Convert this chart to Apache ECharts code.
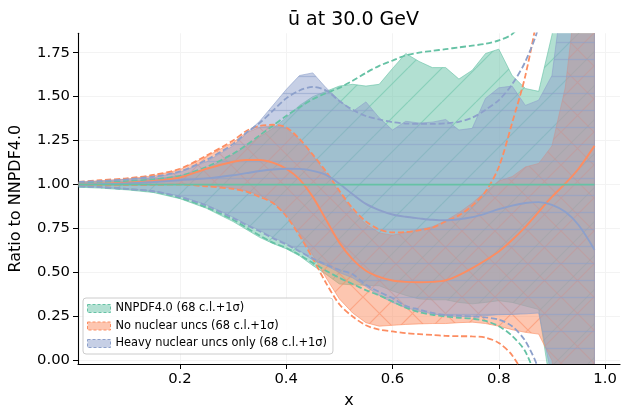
<!DOCTYPE html>
<html>
<head>
    <meta charset="utf-8" />
    <title>ubar ratio 30 GeV</title>
    <style type="text/css">
        html, body {
            margin: 0;
            padding: 0;
            background: #ffffff;
        }

        #chart {
            width: 629px;
            height: 420px;
        }
    </style>
</head>
<body>
    <div id="chart"></div>
    <script src="https://cdn.jsdelivr.net/npm/echarts@6/dist/echarts.min.js"></script>
    <script type="text/javascript">
        // x grid shared by every curve
        var xs = [0.01, 0.05, 0.1, 0.15, 0.2, 0.25, 0.3, 0.325, 0.35, 0.375, 0.4, 0.425, 0.45, 0.475, 0.5, 0.525, 0.55, 0.575, 0.6, 0.625,
            0.65, 0.675, 0.7, 0.725, 0.75, 0.775, 0.8, 0.825, 0.85, 0.875, 0.9, 0.925, 0.95, 0.98];

        // NNPDF4.0 (reference, central = 1)
        var nnpdfMid = [1, 1, 1, 1, 1, 1, 1, 1, 1, 1, 1, 1, 1, 1, 1, 1, 1, 1, 1, 1, 1, 1, 1, 1, 1, 1, 1, 1, 1, 1, 1, 1, 1, 1];
        var nnpdfBandUp = [1.01, 1.015, 1.02, 1.03, 1.05, 1.09, 1.17, 1.22, 1.27, 1.32, 1.38, 1.45, 1.50, 1.53, 1.56, 1.57, 1.56, 1.57, 1.66, 1.745,
            1.70, 1.665, 1.665, 1.60, 1.65, 1.745, 1.77, 1.62, 1.546, 1.53, 1.85, 2.3, 2.8, 3.2];
        var nnpdfBandLo = [0.985, 0.98, 0.97, 0.955, 0.92, 0.865, 0.79, 0.745, 0.70, 0.665, 0.635, 0.595, 0.54, 0.49, 0.435, 0.43, 0.427, 0.425, 0.395, 0.37,
            0.35, 0.345, 0.345, 0.33, 0.322, 0.33, 0.34, 0.33, 0.31, 0.29, -0.2, -0.8, -1.2, -1.5];
        var nnpdfSigUp = [1.01, 1.015, 1.02, 1.03, 1.05, 1.10, 1.175, 1.225, 1.28, 1.335, 1.39, 1.44, 1.485, 1.52, 1.55, 1.59, 1.635, 1.675, 1.705, 1.735,
            1.75, 1.76, 1.77, 1.78, 1.79, 1.80, 1.82, 1.855, 1.95, 2.1, 2.3, 2.6, 3.0, 3.5];
        var nnpdfSigLo = [0.99, 0.985, 0.975, 0.96, 0.925, 0.87, 0.80, 0.755, 0.71, 0.67, 0.64, 0.60, 0.555, 0.51, 0.47, 0.435, 0.40, 0.37, 0.335, 0.30,
            0.275, 0.26, 0.25, 0.243, 0.238, 0.225, 0.195, 0.14, 0.05, -0.15, -0.5, -0.9, -1.3, -1.8];

        // No nuclear uncertainties
        var noNucMid = [1.0, 1.005, 1.01, 1.02, 1.04, 1.09, 1.13, 1.14, 1.14, 1.125, 1.09, 1.03, 0.93, 0.80, 0.67, 0.575, 0.51, 0.475, 0.455, 0.447,
            0.445, 0.447, 0.455, 0.485, 0.525, 0.57, 0.62, 0.685, 0.76, 0.845, 0.93, 1.005, 1.09, 1.22];
        var noNucBandUp = [1.013, 1.022, 1.032, 1.05, 1.085, 1.16, 1.24, 1.295, 1.325, 1.335, 1.32, 1.255, 1.165, 1.065, 0.955, 0.85, 0.775, 0.725, 0.712, 0.728,
            0.745, 0.76, 0.795, 0.84, 0.895, 0.96, 1.02, 1.045, 1.10, 1.12, 1.22, 1.55, 2.2, 3.0];
        var noNucBandLo = [0.997, 0.997, 0.999, 1.0, 1.002, 0.995, 0.98, 0.965, 0.94, 0.90, 0.83, 0.72, 0.60, 0.47, 0.35, 0.27, 0.215, 0.195, 0.2, 0.205,
            0.208, 0.21, 0.21, 0.215, 0.218, 0.21, 0.195, 0.175, 0.16, 0.15, 0.0, -0.5, -1.0, -1.5];
        var noNucSigUp = [1.015, 1.025, 1.035, 1.055, 1.09, 1.165, 1.25, 1.305, 1.333, 1.34, 1.325, 1.26, 1.17, 1.075, 0.965, 0.865, 0.79, 0.745, 0.728, 0.73,
            0.74, 0.755, 0.79, 0.825, 0.88, 0.96, 1.1, 1.35, 1.62, 2.0, 2.5, 3.0, 3.5, 4.0];
        var noNucSigLo = [0.995, 0.995, 0.997, 0.998, 1.0, 0.99, 0.975, 0.96, 0.93, 0.895, 0.82, 0.71, 0.58, 0.44, 0.32, 0.25, 0.2, 0.175, 0.165, 0.155,
            0.15, 0.145, 0.14, 0.138, 0.137, 0.13, 0.1, 0.03, -0.1, -0.3, -0.6, -1.0, -1.4, -1.8];

        // Heavy nuclear uncertainties only
        var heavyMid = [1.0, 1.003, 1.007, 1.015, 1.025, 1.035, 1.053, 1.065, 1.077, 1.086, 1.09, 1.089, 1.078, 1.055, 1.005, 0.945, 0.89, 0.855, 0.83, 0.817,
            0.808, 0.80, 0.797, 0.803, 0.815, 0.835, 0.86, 0.88, 0.895, 0.90, 0.885, 0.845, 0.77, 0.63];
        var heavyBandUp = [1.015, 1.02, 1.03, 1.04, 1.07, 1.13, 1.22, 1.29, 1.36, 1.45, 1.54, 1.62, 1.635, 1.55, 1.48, 1.415, 1.47, 1.38, 1.31, 1.36,
            1.35, 1.355, 1.37, 1.31, 1.32, 1.49, 1.55, 1.56, 1.45, 1.48, 1.62, 2.2, 2.8, 3.2];
        var heavyBandLo = [0.99, 0.985, 0.975, 0.962, 0.935, 0.885, 0.815, 0.775, 0.74, 0.70, 0.665, 0.625, 0.57, 0.54, 0.50, 0.47, 0.42, 0.37, 0.33, 0.30,
            0.28, 0.265, 0.255, 0.25, 0.25, 0.255, 0.26, 0.262, 0.265, 0.27, -0.1, -0.6, -1.0, -1.4];
        var heavySigUp = [1.015, 1.02, 1.03, 1.045, 1.075, 1.14, 1.23, 1.295, 1.35, 1.42, 1.49, 1.535, 1.555, 1.535, 1.475, 1.425, 1.39, 1.37, 1.355, 1.347,
            1.345, 1.345, 1.348, 1.357, 1.38, 1.425, 1.48, 1.57, 1.7, 1.9, 2.3, 2.8, 3.3, 3.8];
        var heavySigLo = [0.99, 0.985, 0.975, 0.962, 0.93, 0.88, 0.81, 0.77, 0.735, 0.695, 0.66, 0.62, 0.58, 0.545, 0.515, 0.49, 0.43, 0.39, 0.355, 0.31,
            0.29, 0.27, 0.258, 0.255, 0.25, 0.245, 0.232, 0.195, 0.11, -0.05, -0.3, -0.7, -1.1, -1.5];

        var xTicks = [0.2, 0.4, 0.6, 0.8, 1.0];
        var yTicks = [0, 0.25, 0.5, 0.75, 1.0, 1.25, 1.5, 1.75];
        var names = ['NNPDF4.0 (68 c.l.+1σ)', 'No nuclear uncs (68 c.l.+1σ)', 'Heavy nuclear uncs only (68 c.l.+1σ)'];

        var GREEN = '102,194,165';
        var ORANGE = '252,141,98';
        var BLUE = '141,160,203';
        var FONT = 'DejaVu Sans';

        // tile a hatch pattern on a small canvas (like matplotlib hatch)
        var makeHatch = function (rgb, kind, size) {
            var c = document.createElement('canvas');
            c.width = kind == 'h' ? 8 : size;
            c.height = size;
            var g = c.getContext('2d');
            g.strokeStyle = 'rgba(' + rgb + ',0.55)';
            g.lineWidth = 1.2;
            g.beginPath();
            if (kind == 'h') {
                g.moveTo(0, size / 2);
                g.lineTo(8, size / 2);
            }
            if (kind == '/' || kind == 'x') {
                for (var k = -size; k <= size; k += size) {
                    g.moveTo(k, size);
                    g.lineTo(k + size, 0);
                }
            }
            if (kind == 'x') {
                for (var k2 = -size; k2 <= size; k2 += size) {
                    g.moveTo(k2, 0);
                    g.lineTo(k2 + size, size);
                }
            }
            g.stroke();
            return { image: c, repeat: 'repeat' };
        };

        var pairs = function (ys) {
            return xs.map(function (x, i) { return [x, ys[i]]; });
        };

        var bandSeries = function (name, lo, up, rgb, hatch) {
            return {
                type: 'custom',
                name: name,
                clip: true,
                silent: true,
                data: [[0.5, 1]],
                encode: { x: 0, y: 1 },
                renderItem: function (params, api) {
                    var pts = [];
                    for (var i = 0; i < xs.length; i++) {
                        pts.push(api.coord([xs[i], up[i]]));
                    }
                    for (var j = xs.length - 1; j >= 0; j--) {
                        pts.push(api.coord([xs[j], lo[j]]));
                    }
                    return {
                        type: 'group',
                        children: [{
                            type: 'polygon',
                            shape: { points: pts },
                            style: { fill: 'rgba(' + rgb + ',0.5)', stroke: 'rgba(' + rgb + ',0.6)', lineWidth: 1 }
                        }, {
                            type: 'polygon',
                            shape: { points: pts },
                            style: { fill: hatch, stroke: null }
                        }]
                    };
                }
            };
        };

        var lineSeries = function (ys, rgb, dashed) {
            return {
                type: 'line',
                data: pairs(ys),
                symbol: 'none',
                smooth: 0.3,
                silent: true,
                clip: true,
                lineStyle: {
                    color: 'rgb(' + rgb + ')',
                    width: dashed ? 1.8 : 1.9,
                    type: dashed ? [6, 2.8] : 'solid'
                },
                z: 3
            };
        };

        var series = [
            bandSeries(names[0], nnpdfBandLo, nnpdfBandUp, GREEN, makeHatch(GREEN, '/', 34)),
            bandSeries(names[1], noNucBandLo, noNucBandUp, ORANGE, makeHatch(ORANGE, 'x', 33)),
            bandSeries(names[2], heavyBandLo, heavyBandUp, BLUE, makeHatch(BLUE, 'h', 17)),
            lineSeries(nnpdfSigUp, GREEN, true),
            lineSeries(nnpdfSigLo, GREEN, true),
            lineSeries(noNucSigUp, ORANGE, true),
            lineSeries(noNucSigLo, ORANGE, true),
            lineSeries(heavySigUp, BLUE, true),
            lineSeries(heavySigLo, BLUE, true),
            lineSeries(noNucMid, ORANGE, false),
            lineSeries(heavyMid, BLUE, false),
            lineSeries(nnpdfMid, GREEN, false)
        ];

        var legendItem = function (name, rgb) {
            return {
                name: name,
                icon: 'rect',
                itemStyle: { color: 'rgba(' + rgb + ',0.5)', borderColor: 'rgb(' + rgb + ')', borderWidth: 1, borderType: [3, 2] }
            };
        };

        var option = {
            animation: false,
            backgroundColor: '#ffffff',
            title: {
                text: 'ū at 30.0 GeV',
                left: 348.5,
                top: 6,
                textAlign: 'center',
                textStyle: { fontFamily: FONT, fontSize: 19, fontWeight: 'normal', color: '#000' }
            },
            legend: {
                left: 83,
                top: 298,
                orient: 'vertical',
                selectedMode: false,
                itemWidth: 23,
                itemHeight: 8,
                itemGap: 6.5,
                padding: [5, 6, 5, 4],
                backgroundColor: 'rgba(255,255,255,0.8)',
                borderColor: '#cccccc',
                borderWidth: 1,
                borderRadius: 3,
                textStyle: { fontFamily: FONT, fontSize: 11.4, color: '#000' },
                data: [legendItem(names[0], GREEN), legendItem(names[1], ORANGE), legendItem(names[2], BLUE)]
            },
            grid: { left: 77.3, right: 9, top: 33.3, bottom: 56, containLabel: false },
            xAxis: {
                type: 'value',
                min: 0.0083,
                max: 1.028,
                name: 'x',
                nameLocation: 'middle',
                nameGap: 29,
                nameTextStyle: { fontFamily: FONT, fontSize: 16, color: '#000' },
                axisLine: { show: true, onZero: false, lineStyle: { color: '#000', width: 1.1 } },
                axisTick: { show: true, length: 5, customValues: xTicks, lineStyle: { color: '#000', width: 1 } },
                axisLabel: {
                    customValues: xTicks, margin: 8, fontFamily: FONT, fontSize: 14.8, color: '#000',
                    formatter: function (v) { return v.toFixed(1); }
                },
                splitLine: { show: true, lineStyle: { color: '#f3f3f3', width: 1 } }
            },
            yAxis: {
                type: 'value',
                min: -0.02,
                max: 1.86,
                name: 'Ratio to NNPDF4.0',
                nameLocation: 'middle',
                nameGap: 54,
                nameTextStyle: { fontFamily: FONT, fontSize: 16, color: '#000' },
                axisLine: { show: true, onZero: false, lineStyle: { color: '#000', width: 1.1 } },
                axisTick: { show: true, length: 5, customValues: yTicks, lineStyle: { color: '#000', width: 1 } },
                axisLabel: {
                    customValues: yTicks, margin: 8, fontFamily: FONT, fontSize: 14.8, color: '#000',
                    formatter: function (v) { return v.toFixed(2); }
                },
                splitLine: { show: true, lineStyle: { color: '#f3f3f3', width: 1 } }
            },
            series: series
        };

        var myChart = echarts.init(document.getElementById('chart'), null, { renderer: 'canvas' });
        myChart.setOption(option);
    </script>
</body>
</html>
